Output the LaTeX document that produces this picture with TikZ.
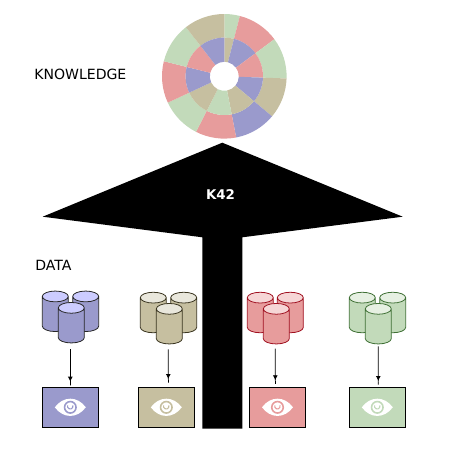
\documentclass[tikz,border=0pt]{standalone}
\usepackage{fontspec}
\setmainfont{DejaVu Sans}
\usetikzlibrary{shapes.geometric,arrows.meta,calc}
\definecolor{cpurple}{HTML}{9A9ACC}
\definecolor{ctan}{HTML}{C6BFA0}
\definecolor{cpink}{HTML}{E79C9C}
\definecolor{cgreen}{HTML}{C2DABA}
\definecolor{lpurple}{HTML}{CCCCFF}
\definecolor{ltan}{HTML}{E9E7DC}
\definecolor{lpink}{HTML}{F6D6D6}
\definecolor{lgreen}{HTML}{E6F0E2}
\definecolor{dtan}{HTML}{3A3520}
\definecolor{dpink}{HTML}{A01020}
\definecolor{dgreen}{HTML}{3F7035}
\tikzset{
  lab/.style={font=\fontsize{8}{9}\selectfont, text=black, inner sep=0pt, anchor=west},
  db/.style n args={3}{draw=#3, line width=0.45pt, cylinder, shape border rotate=90, shape aspect=0.92,
    minimum width=0.52cm, minimum height=0.81cm, outer sep=0pt, anchor=shape center,
    cylinder uses custom fill, cylinder body fill=#1, cylinder end fill=#2},
  viewbox/.style={draw=black, line width=0.6pt, fill=#1, minimum width=1.12cm,
    minimum height=0.8cm, inner sep=0pt, outer sep=0pt},
  flow/.style={-{Latex[length=1mm,width=1mm] Rectangle[length=0.8mm,width=0.5pt]}, line width=0.5pt}
}
% eye drawn around the given point
\newcommand{\eyeicon}[2]{
  \fill[white] ($(#1)+(-0.31,0)$) .. controls ($(#1)+(-0.14,0.23)$) and ($(#1)+(0.14,0.23)$) .. ($(#1)+(0.31,0)$)
    .. controls ($(#1)+(0.14,-0.23)$) and ($(#1)+(-0.14,-0.23)$) .. cycle;
  \draw[#2, line width=0.9pt] (#1) circle (0.115);
  \draw[#2, line width=0.6pt] ($(#1)+(0.05,0.04)$) arc[start angle=20, end angle=-200, radius=0.055];
}
\begin{document}
\begin{tikzpicture}
\useasboundingbox (0,0) rectangle (9,-9);

% wheel
\coordinate (wheel) at (4.486,-1.526);
\foreach \a/\b/\c in {90/75.5/cgreen,75.5/36.5/cpink,36.5/-2/cgreen,-2/-40/ctan,-40/-79/cpurple,
  -79/-117/cpink,-117/-155/cgreen,-155/-194/cpink,-194/-232/cgreen,-232/-270/ctan}
  \fill[\c] ($(wheel)+(\a:1.246)$) arc[start angle=\a, end angle=\b, radius=1.246]
    -- ($(wheel)+(\b:0.774)$) arc[start angle=\b, end angle=\a, radius=0.774] -- cycle;
\foreach \a/\b/\c in {90/75.5/ctan,75.5/36.5/cpurple,36.5/-2/cpink,-2/-40/cpurple,-40/-79/ctan,
  -79/-117/cgreen,-117/-155/ctan,-155/-194/cpurple,-194/-232/cpink,-232/-270/cpurple}
  \fill[\c] ($(wheel)+(\a:0.774)$) arc[start angle=\a, end angle=\b, radius=0.774]
    -- ($(wheel)+(\b:0.29)$) arc[start angle=\b, end angle=\a, radius=0.29] -- cycle;

% big arrow
\fill[black] (4.446,-2.854) -- (8.054,-4.334) -- (4.846,-4.746) -- (4.846,-8.57) -- (4.046,-8.57)
  -- (4.046,-4.746) -- (0.854,-4.334) -- cycle;
\node[font=\fontsize{7.6}{9}\selectfont\bfseries, text=white, inner sep=0pt] (k42) at (4.41,-3.9) {K42};

\node[lab] (knowledge) at (0.68,-1.48) {KNOWLEDGE};
\node[lab] (data) at (0.7,-5.3) {DATA};

% databases
\node[db={cpurple}{lpurple}{black!85}] (dba) at (1.106,-6.226) {};
\node[db={cpurple}{lpurple}{black!85}] (dbb) at (1.714,-6.226) {};
\node[db={cpurple}{lpurple}{black!85}] (dbc) at (1.426,-6.454) {};
\node[db={ctan}{ltan}{dtan}] (dbd) at (3.066,-6.25) {};
\node[db={ctan}{ltan}{dtan}] (dbe) at (3.674,-6.25) {};
\node[db={ctan}{ltan}{dtan}] (dbf) at (3.386,-6.474) {};
\node[db={cpink}{lpink}{dpink}] (dbg) at (5.206,-6.25) {};
\node[db={cpink}{lpink}{dpink}] (dbh) at (5.806,-6.25) {};
\node[db={cpink}{lpink}{dpink}] (dbi) at (5.526,-6.474) {};
\node[db={cgreen}{lgreen}{dgreen}] (dbj) at (7.246,-6.25) {};
\node[db={cgreen}{lgreen}{dgreen}] (dbk) at (7.854,-6.25) {};
\node[db={cgreen}{lgreen}{dgreen}] (dbl) at (7.566,-6.474) {};

% views
\node[viewbox=cpurple] (viewa) at (1.406,-8.146) {};
\node[viewbox=ctan] (viewb) at (3.326,-8.146) {};
\node[viewbox=cpink] (viewc) at (5.55,-8.146) {};
\node[viewbox=cgreen] (viewd) at (7.546,-8.146) {};
\eyeicon{viewa}{cpurple}
\eyeicon{viewb}{ctan}
\eyeicon{viewc}{cpink}
\eyeicon{viewd}{cgreen}

\draw[flow, shorten <=0.126cm, shorten >=0.032cm] (dbc.south -| viewa) -- (viewa.north);
\draw[flow, shorten <=0.106cm, shorten >=0.086cm] ($(dbf.south)+(-0.02,0)$) -- ($(viewb.north)+(0.04,0)$);
\draw[flow, shorten <=0.092cm, shorten >=0.06cm] ($(dbi.south)+(-0.02,0)$) -- ($(viewc.north)+(-0.044,0)$);
\draw[flow, shorten <=0.046cm, shorten >=0.046cm] (dbl.south) -- ($(viewd.north)+(0.02,0)$);
\end{tikzpicture}
\end{document}
